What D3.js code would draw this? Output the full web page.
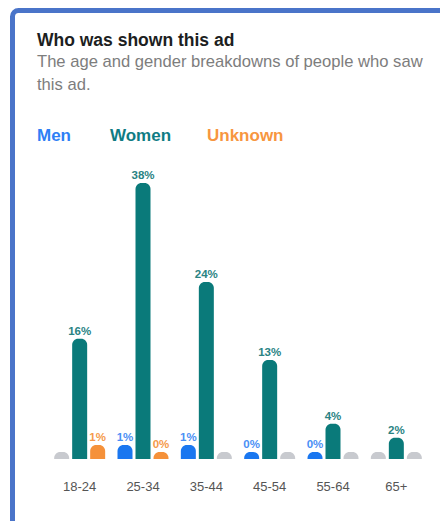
<!DOCTYPE html>
<html><head><meta charset="utf-8">
<script src="https://cdn.jsdelivr.net/npm/d3@7/dist/d3.min.js"></script>
<style>html,body{margin:0;padding:0;background:#fff;}svg{display:block;font-family:"Liberation Sans",Arial,Helvetica,sans-serif;}</style>
</head><body>
<svg id="c" width="440" height="521"></svg>
<script>
const categories = ["18-24","25-34","35-44","45-54","55-64","65+"];
const seriesNames = ["Men","Women","Unknown"];
const men = [null, 1, 1, 0, 0, null];
const women = [16, 38, 24, 13, 4, 2];
const unknown = [1, 0, null, null, null, null];
const title = "Who was shown this ad";
const subtitleLines = ["The age and gender breakdowns of people who saw", "this ad."];

const barColors = {Men:"#1a77f0", Women:"#0a7a7a", Unknown:"#f5913a"};
const labelColors = {Men:"#4a8ff5", Women:"#2a8383", Unknown:"#f59a4a"};
const legendColors = {Men:"#2e7ff5", Women:"#0f7c84", Unknown:"#f7963f"};
const nullColor = "#c8cacf";

const svg = d3.select("#c");
svg.append("rect").attr("x",12.5).attr("y",10.5).attr("width",520).attr("height",600)
  .attr("rx",6).attr("fill","#fff").attr("stroke","#4a74c9").attr("stroke-width",5);

svg.append("text").attr("x",37).attr("y",46).attr("font-size",17.5).attr("font-weight","bold")
  .attr("fill","#1c1e21").text(title);
svg.selectAll("text.sub").data(subtitleLines).join("text").attr("class","sub")
  .attr("x",37).attr("y",(d,i)=>67+i*23).attr("font-size",16.6).attr("fill","#7d7d7d").text(d=>d);

const legendX = [37,110,207];
svg.selectAll("text.leg").data(seriesNames).join("text").attr("class","leg")
  .attr("x",(d,i)=>legendX[i]).attr("y",141).attr("font-size",17).attr("font-weight","bold")
  .attr("fill",d=>legendColors[d]).text(d=>d);

const baseline = 459;
const x = d3.scaleBand().domain(categories).range([48,428]);
const xs = d3.scaleBand().domain(seriesNames).range([-27,27]).paddingInner(1/6).paddingOuter(1/12);
const y = d3.scaleLinear().domain([0,38]).range([baseline-7, 183]);

const data = {Men:men, Women:women, Unknown:unknown};
const bars = [];
categories.forEach((c,i)=>{
  seriesNames.forEach(s=>{
    bars.push({cat:c, series:s, value:data[s][i]});
  });
});

function barPath(x0,w,top,bot,r){
  const h = bot-top;
  r = Math.min(r, h, w/2);
  return `M${x0},${bot}V${top+r}C${x0},${top+r*0.45} ${x0+r*0.45},${top} ${x0+r},${top}H${x0+w-r}C${x0+w-r*0.45},${top} ${x0+w},${top+r*0.45} ${x0+w},${top+r}V${bot}Z`;
}

const g = svg.append("g");
g.selectAll("path.bar").data(bars).join("path").attr("class","bar")
  .attr("d",d=>{
    const x0 = x(d.cat)+x.bandwidth()/2+xs(d.series);
    const v = d.value==null?0:d.value;
    return barPath(x0, xs.bandwidth(), y(v), baseline, 6);
  })
  .attr("fill",d=>d.value==null?nullColor:barColors[d.series]);

g.selectAll("text.val").data(bars.filter(d=>d.value!=null)).join("text").attr("class","val")
  .attr("x",d=>x(d.cat)+x.bandwidth()/2+xs(d.series)+xs.bandwidth()/2)
  .attr("y",d=>y(d.value)-4)
  .attr("text-anchor","middle").attr("font-size",11.5).attr("font-weight","bold")
  .attr("fill",d=>labelColors[d.series]).text(d=>d.value+"%");

const xAxis = d3.axisBottom(x).tickSize(0).tickPadding(0);
const ax = svg.append("g").attr("transform",`translate(0,${baseline+23})`).call(xAxis);
ax.select(".domain").remove();
ax.selectAll("text").attr("font-size",13).attr("fill","#555").attr("font-family","Liberation Sans, Arial, sans-serif");
</script>
</body></html>
